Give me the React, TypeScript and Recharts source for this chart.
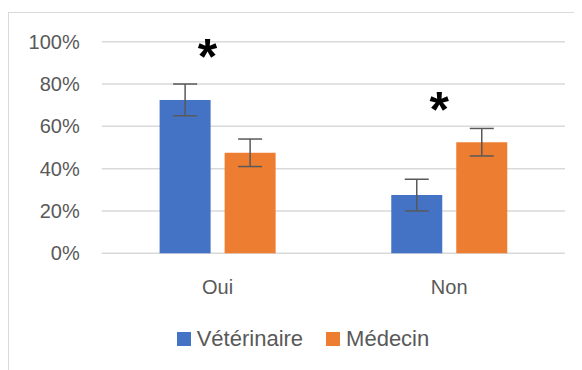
import React from 'react';
import { BarChart, Bar, XAxis, YAxis, CartesianGrid, Legend, ErrorBar, ReferenceDot } from 'recharts';

const categories = ['Oui', 'Non'];
const veterinaire = [72.5, 27.5];
const medecin = [47.5, 52.5];
const veterinaireErr = [7.5, 7.5];
const medecinErr = [6.5, 6.5];
const yTicks = [0, 20, 40, 60, 80, 100];
const starCategories = ['Oui', 'Non'];
const starValues = [96.8, 72];
const seriesNames = ['Vétérinaire', 'Médecin'];
const colors = ['#4472C4', '#ED7D31'];

const data = categories.map((c, i) => ({
  cat: c,
  vet: veterinaire[i],
  med: medecin[i],
  vetErr: veterinaireErr[i],
  medErr: medecinErr[i],
}));

const FONT = '"Liberation Sans", Arial, sans-serif';
const TEXT = '#595959';

const LegendContent = () => (
  <div style={{ display: 'flex', alignItems: 'center', fontFamily: FONT, fontSize: 22, color: TEXT, whiteSpace: 'nowrap' }}>
    {seriesNames.map((n, i) => (
      <div key={n} style={{ display: 'flex', alignItems: 'center', marginRight: i === 0 ? 23 : 0 }}>
        <div style={{ width: 14, height: 14, background: colors[i], marginRight: 6 }} />
        <span>{n}</span>
      </div>
    ))}
  </div>
);

const Star = (p: any) => (
  <text x={p.cx - 10} y={p.cy + 26} textAnchor="middle" fontFamily={FONT} fontWeight="bold" fontSize={50} fill="#000">*</text>
);

export default function App() {
  return (
    <div style={{ position: 'relative', width: 574, height: 362, overflow: 'hidden', background: '#fff' }}>
      <div style={{ position: 'absolute', left: 0, top: 4, width: 700, height: 500, border: '1px solid #d9d9d9', boxSizing: 'border-box' }} />
      <div style={{ position: 'absolute', left: 0, top: 0 }}>
        <BarChart
          width={574}
          height={362}
          data={data}
          margin={{ top: 33.7, right: 17, left: 0, bottom: 76.7 }}
          barCategoryGap="25%"
          barGap={14}
        >
          <CartesianGrid vertical={false} stroke="#d9d9d9" strokeWidth={1.5} />
          <XAxis
            dataKey="cat"
            axisLine={false}
            tickLine={false}
            height={40}
            tick={{ fill: TEXT, fontSize: 20, fontFamily: FONT }}
            tickMargin={20}
          />
          <YAxis
            width={93.7}
            domain={[0, 100]}
            ticks={yTicks}
            axisLine={false}
            tickLine={false}
            tickFormatter={(v: number) => `${v}%`}
            tick={{ fill: TEXT, fontSize: 20, fontFamily: FONT }}
            tickMargin={16}
          />
          <Bar dataKey="vet" name={seriesNames[0]} fill={colors[0]} isAnimationActive={false}>
            <ErrorBar dataKey="vetErr" width={12} stroke="#595959" strokeWidth={1.5} />
          </Bar>
          <Bar dataKey="med" name={seriesNames[1]} fill={colors[1]} isAnimationActive={false}>
            <ErrorBar dataKey="medErr" width={12} stroke="#595959" strokeWidth={1.5} />
          </Bar>
          {starCategories.map((c, i) => (
            <ReferenceDot key={c} x={c} y={starValues[i]} r={0} shape={Star} ifOverflow="visible" />
          ))}
          <Legend
            verticalAlign="middle"
            align="center"
            content={<LegendContent />}
            wrapperStyle={{ top: 318, left: 168.7, width: 'auto' }}
          />
        </BarChart>
      </div>
    </div>
  );
}
